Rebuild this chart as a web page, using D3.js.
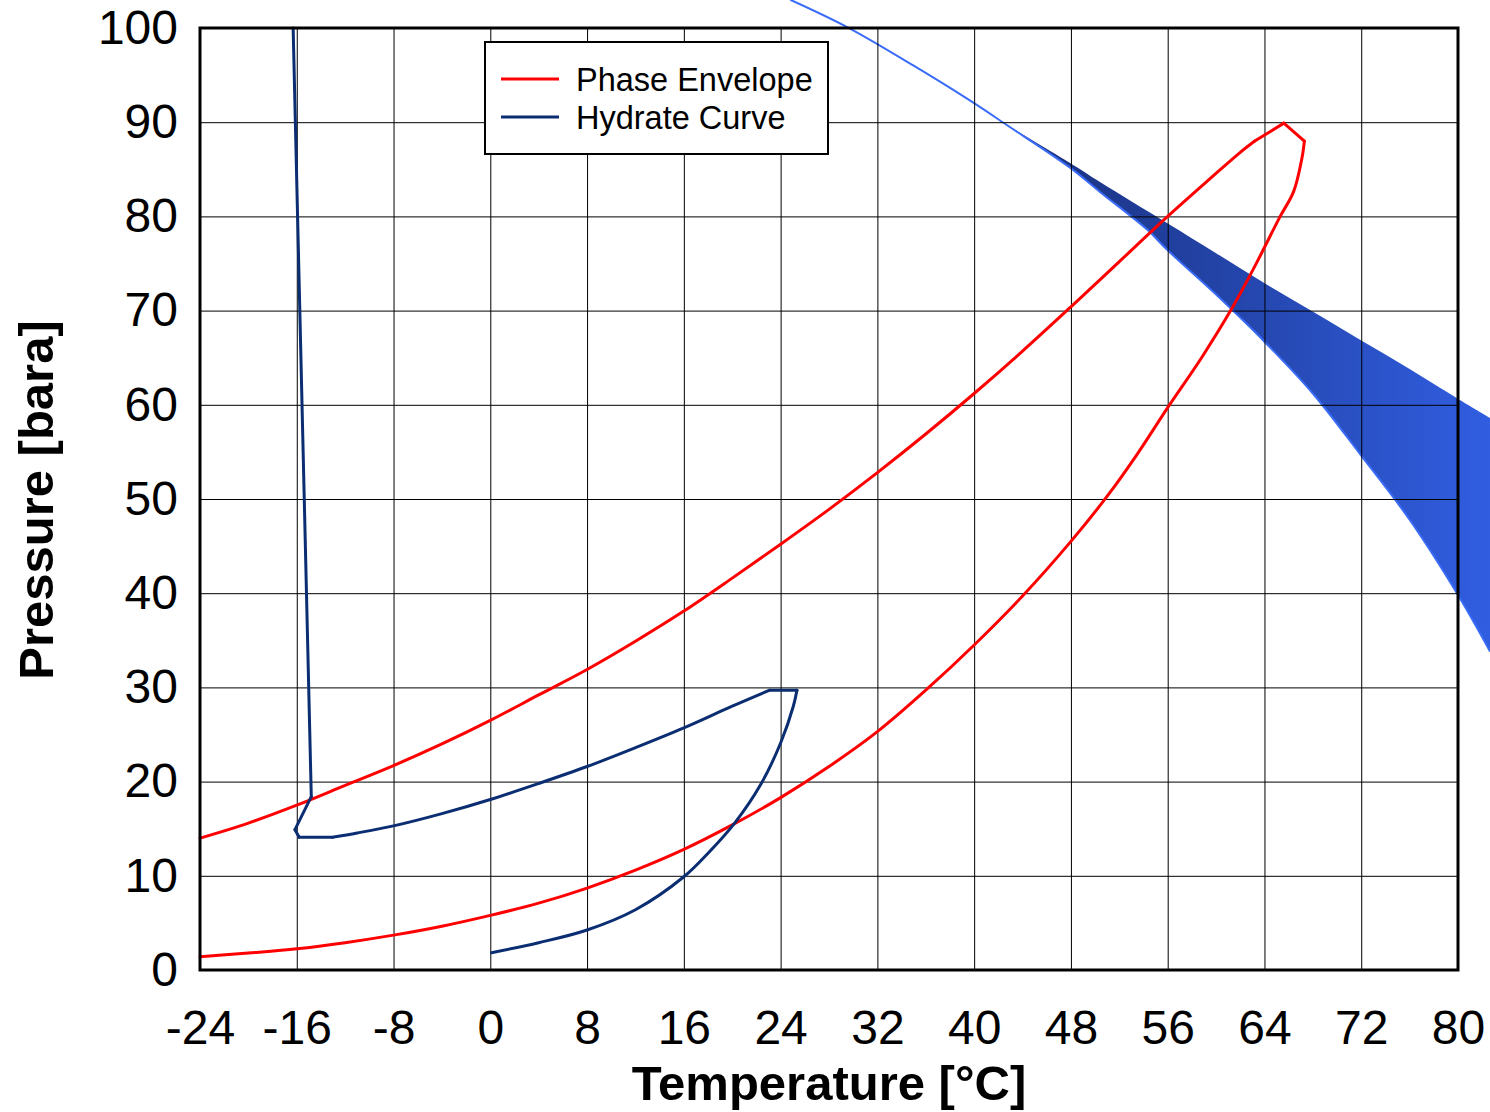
<!DOCTYPE html>
<html>
<head>
<meta charset="utf-8">
<script src="https://cdn.jsdelivr.net/npm/d3@7"></script>
<style>
  body { margin: 0; background: #fff; }
  text { font-family: "Liberation Sans", Arial, sans-serif; }
</style>
</head>
<body>
<div id="chart"></div>
<script>
// temperature [degC], pressure [bara]
var phaseT = [-24, -20, -16, -12, -8, -4, 0, 4, 8, 12, 16, 20, 24, 28, 32, 36, 40, 44, 48, 52, 56, 59.5, 62, 63.2, 65.6,
              67.3, 67.1, 66.4, 65.3, 63.2, 61.2, 58.8, 56, 53.5, 51, 48, 44, 40, 36, 32, 28, 24, 20, 16, 12, 8, 4, 0, -4, -8, -12, -16, -20, -24];
var phaseP = [14.0, 15.6, 17.5, 19.6, 21.7, 24.0, 26.5, 29.2, 31.9, 34.9, 38.1, 41.6, 45.2, 48.9, 52.8, 56.9, 61.2, 65.7, 70.4, 75.2, 80.0, 84.0, 86.8, 88.0, 89.9,
              88.0, 86.2, 82.6, 80.0, 74.7, 70.0, 65.0, 59.7, 54.8, 50.3, 45.5, 39.7, 34.5, 29.7, 25.3, 21.6, 18.3, 15.4, 12.8, 10.6, 8.7, 7.1, 5.8, 4.65, 3.7, 2.9, 2.25, 1.8, 1.4];
var phaseCorners = [23, 24, 25];

var hydrateT = [-16.3, -14.8, -16.15, -15.8, -13.05, -11, -8, -4, 0, 4, 8, 12, 16, 20, 23.1, 25.35, 25.05, 24.0, 22.4, 20.2, 18, 16, 12, 8, 4, 0.1];
var hydrateP = [100, 18.4, 14.9, 14.1, 14.1, 14.55, 15.3, 16.6, 18.1, 19.8, 21.6, 23.6, 25.7, 28.0, 29.7, 29.7, 28.0, 24.1, 19.8, 15.6, 12.4, 9.9, 6.4, 4.25, 2.9, 1.84];
var hydrateCorners = [1, 2, 3, 4, 14, 15];

// blue band on the right
var leadT = [24.8, 29.5, 35, 39.9, 42.7];
var leadP = [103, 100.1, 96.0, 92.1, 89.7];
var bandUpperT = [42.7, 47.9, 50.4, 55.94, 60, 63.88, 67.77, 71.9, 76, 79.92, 82.65];
var bandUpperP = [89.7, 85.7, 83.65, 79.3, 76.1, 73.0, 70.06, 66.9, 63.8, 60.7, 58.6];
var bandLowerT = [42.7, 47.9, 50.4, 54.3, 56, 60, 64, 68, 72, 76, 80, 82.65];
var bandLowerP = [89.7, 85.2, 82.6, 78.6, 76.4, 71.7, 66.7, 61.2, 54.6, 47.8, 39.8, 33.8];

var xTicks = [-24, -16, -8, 0, 8, 16, 24, 32, 40, 48, 56, 64, 72, 80];
var yTicks = [0, 10, 20, 30, 40, 50, 60, 70, 80, 90, 100];

var legendNames = ["Phase Envelope", "Hydrate Curve"];
var legendColors = ["#ff0000", "#0b2d72"];

var W = 1490, H = 1112;
var margin = {top: 28, right: 32, bottom: 142, left: 200},
    width = W - margin.left - margin.right,
    height = H - margin.top - margin.bottom;

var x = d3.scaleLinear().domain([-24, 80]).range([0, width]);
var y = d3.scaleLinear().domain([0, 100]).range([height, 0]);

function zip(a, b) { return a.map(function(d, i) { return [d, b[i]]; }); }

// split a series at its sharp corners so the smoothing does not round them
function pieces(pts, corners) {
  var cuts = [0].concat(corners, [pts.length - 1]);
  var out = [];
  for (var i = 0; i < cuts.length - 1; i++) out.push(pts.slice(cuts[i], cuts[i + 1] + 1));
  return out;
}

var smooth = d3.line()
    .x(function(d) { return x(d[0]); })
    .y(function(d) { return y(d[1]); })
    .curve(d3.curveCatmullRom.alpha(0.5));

var svg = d3.select("#chart").append("svg")
    .attr("width", W)
    .attr("height", H)
  .append("g")
    .attr("transform", "translate(" + margin.left + "," + margin.top + ")");

var defs = svg.append("defs");
var grad = defs.append("linearGradient")
    .attr("id", "bandGrad")
    .attr("gradientUnits", "userSpaceOnUse")
    .attr("x1", x(42)).attr("y1", 0)
    .attr("x2", x(83)).attr("y2", 0);
grad.append("stop").attr("offset", "0%").attr("stop-color", "#182e78");
grad.append("stop").attr("offset", "100%").attr("stop-color", "#315ee2");

// band
var upper = zip(bandUpperT, bandUpperP);
var lower = zip(bandLowerT, bandLowerP);

svg.append("path")
    .attr("fill", "url(#bandGrad)")
    .attr("d", smooth(upper) + "L" + smooth(lower.slice().reverse()).slice(1) + "Z");

svg.append("path")
    .datum(zip(leadT, leadP).concat(lower.slice(1)))
    .attr("fill", "none")
    .attr("stroke", "#3a6cf8")
    .attr("stroke-width", 2)
    .attr("d", smooth);

// grid + axes
var fmt = function(d) { return String(d); };
var xAxis = d3.axisBottom(x).tickValues(xTicks).tickFormat(fmt).tickSizeInner(-height).tickSizeOuter(0).tickPadding(40);
var yAxis = d3.axisLeft(y).tickValues(yTicks).tickFormat(fmt).tickSizeInner(-width).tickSizeOuter(0).tickPadding(22);

var gx = svg.append("g")
    .attr("transform", "translate(0," + height + ")")
    .call(xAxis);
var gy = svg.append("g").call(yAxis);

[gx, gy].forEach(function(g) {
  g.select(".domain").remove();
  g.selectAll(".tick line").attr("stroke", "#000").attr("stroke-width", 1);
  g.selectAll(".tick text")
    .attr("fill", "#000")
    .style("font-family", "'Liberation Sans', Arial, sans-serif")
    .style("font-size", "48px");
});

// curves
pieces(zip(phaseT, phaseP), phaseCorners).forEach(function(seg) {
  svg.append("path")
      .datum(seg)
      .attr("fill", "none")
      .attr("stroke", "#ff0000")
      .attr("stroke-width", 3)
      .attr("stroke-linecap", "round")
      .attr("d", smooth);
});

pieces(zip(hydrateT, hydrateP), hydrateCorners).forEach(function(seg) {
  svg.append("path")
      .datum(seg)
      .attr("fill", "none")
      .attr("stroke", "#0b2d72")
      .attr("stroke-width", 3)
      .attr("stroke-linecap", "round")
      .attr("d", smooth);
});

// frame
svg.append("rect")
    .attr("width", width)
    .attr("height", height)
    .attr("fill", "none")
    .attr("stroke", "#000")
    .attr("stroke-width", 3);

// legend
var legend = svg.append("g")
    .attr("transform", "translate(" + (485 - margin.left) + "," + (42 - margin.top) + ")");

legend.append("rect")
    .attr("width", 343)
    .attr("height", 112)
    .attr("fill", "#fff")
    .attr("stroke", "#000")
    .attr("stroke-width", 2);

legendNames.forEach(function(name, i) {
  var ly = 37 + i * 38;
  legend.append("line")
      .attr("x1", 16).attr("x2", 74)
      .attr("y1", ly).attr("y2", ly)
      .attr("stroke", legendColors[i])
      .attr("stroke-width", 3);
  legend.append("text")
      .attr("x", 91)
      .attr("y", ly + 12)
      .style("font-size", "32.5px")
      .text(name);
});

// axis titles
svg.append("text")
    .attr("x", width / 2)
    .attr("y", 1100 - margin.top)
    .attr("text-anchor", "middle")
    .style("font-size", "49px")
    .style("font-weight", "bold")
    .text("Temperature [°C]");

svg.append("text")
    .attr("transform", "translate(" + (53 - margin.left) + "," + (500 - margin.top) + ") rotate(-90)")
    .attr("text-anchor", "middle")
    .style("font-size", "49px")
    .style("font-weight", "bold")
    .text("Pressure [bara]");
</script>
</body>
</html>
